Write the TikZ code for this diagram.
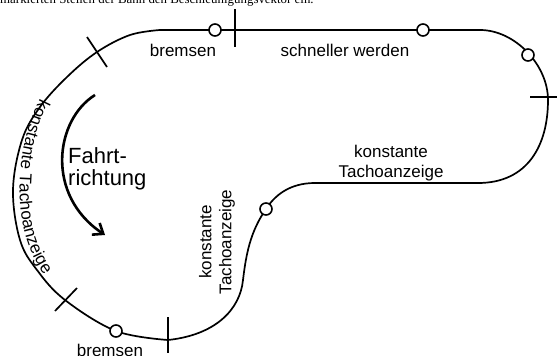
\documentclass[tikz,border=0pt]{standalone}
\usepackage{fontspec}
\setmainfont{Liberation Sans}
\newfontfamily\captionserif{Liberation Serif}
\newcommand\lblfont{\fontsize{17}{20}\selectfont}
\usetikzlibrary{arrows.meta,decorations.text}
\begin{document}
\begin{tikzpicture}
            [
                x = 1pt, y = -1pt,
                track/.style   = {line width=1.7pt, line cap=round},
                marker/.style  = {line width=1.7pt},
                station/.style = {shape=circle, draw, fill=white, line width=1.6pt,
                                  minimum size=12pt, inner sep=0pt},
                lbl/.style     = {font=\lblfont, align=center, inner sep=0pt}
            ]
            \useasboundingbox (0,0) rectangle (557,356);
            \node [anchor=base west, inner sep=0pt,
                font=\captionserif\fontsize{12.9}{14}\selectfont] (caption) at (0,4)
                {markierten Stellen der Bahn den Beschleunigungsvektor ein.};
            \draw [track] (160,30) -- (480,30)
                .. controls (515,30) and (548,65) .. (548,100)
                .. controls (548,145) and (528,183) .. (478,183)
                -- (315,183)
                .. controls (290,183) and (275,195) .. (266,209)
                .. controls (250,232) and (246,255) .. (243,280)
                .. controls (240,310) and (215,335) .. (168,340);
            \draw [track] plot [smooth, tension=0.6] coordinates
                {(168,340) (116,331) (65,300) (37,270) (20,240) (13,190)
                 (22,140) (40,107) (67,77) (97,52) (130,35) (160,30)};
            \draw [marker] (235,9) -- (235,47);
            \draw [marker] (530,97) -- (557,97);
            \draw [marker] (168,317) -- (168,353);
            \draw [marker] (55,311) -- (77,288);
            \draw [marker] (87,37) -- (107,67);
            \node [station] (brakeTop)   at (215,30)  {};
            \node [station] (fastTop)    at (423,30)  {};
            \node [station] (bendRight)  at (528,55)  {};
            \node [station] (bendMiddle) at (266,209) {};
            \node [station] (brakeLow)   at (116,331) {};
            \node [lbl] (bremsenTop)  at (183,50)  {bremsen};
            \node [lbl] (schneller)   at (345,50)  {schneller werden};
            \node [lbl] (konstRight)  at (391,163) {konstante\\Tachoanzeige};
            \node [lbl, rotate=90] (konstMiddle) at (217,242) {konstante\\Tachoanzeige};
            \node [lbl] (bremsenLow)  at (110,350) {bremsen};
            \node [lbl, align=left, anchor=west, font=\fontsize{22}{22}\selectfont]
                (fahrt) at (68,169) {Fahrt-\\richtung};
            \path [decorate, decoration={text along path, text align=center, raise=1pt,
                text={|\lblfont|konstante Tachoanzeige}}]
                (42,93) .. controls (15,140) and (5,230) .. (47,280);
            \draw [line width=2.6pt, -{Straight Barb[length=9pt, width=14pt]}]
                (95,95) .. controls (55,120) and (45,195) .. (105,235);
        \end{tikzpicture}
\end{document}
